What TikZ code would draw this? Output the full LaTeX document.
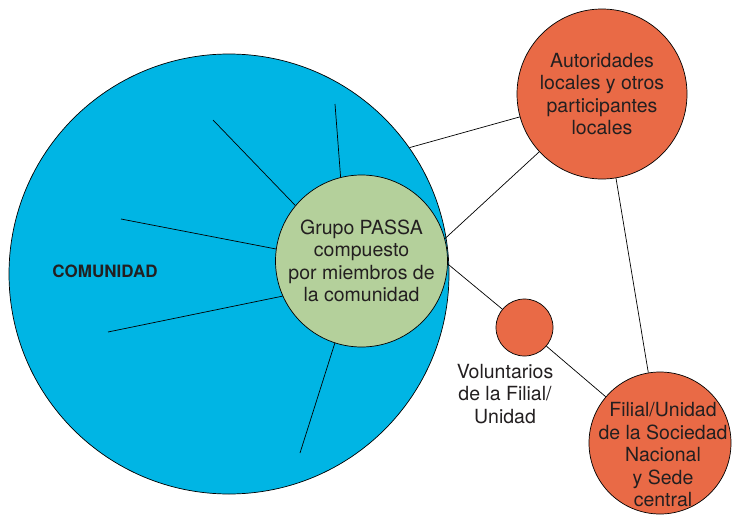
\documentclass[tikz,border=0pt]{standalone}
\usepackage{fontspec}
\setmainfont{TeX Gyre Heros}
\definecolor{comblue}{RGB}{0,181,228}
\definecolor{passagreen}{RGB}{180,208,155}
\definecolor{rcorange}{RGB}{233,106,70}
\definecolor{txtgray}{RGB}{35,31,32}
\tikzset{
  blob/.style={circle, draw=black, line width=0.7pt, inner sep=0pt, align=center, text=txtgray,
    font=\fontsize{19.5}{22.5}\selectfont},
  link/.style={line width=0.7pt},
}
\begin{document}
\begin{tikzpicture}[x=1pt, y=-1pt]
  \useasboundingbox (0,0) rectangle (733,514);
  % community and PASSA group
  \node[blob, fill=comblue, minimum size=440] (com) at (229,274) {};
  \node[font=\fontsize{17}{20}\selectfont\bfseries, text=txtgray] (comtxt) at (105,271) {COMUNIDAD};
  \node[blob, fill=passagreen, minimum size=172] (grupo) at (361.5,261) {Grupo PASSA\\compuesto\\por miembros de\\la comunidad};
  \foreach \n/\a/\x/\y in {1/140/213/120, 2/104/335/104, 3/172/121/219, 4/204/108/332, 5/252/300/453}{
    \coordinate (s\n) at (\x,\y);
    \draw[link] (grupo.\a) -- (s\n);
  }
  % partners
  \node[blob, fill=rcorange, minimum size=170] (auto) at (602,94) {Autoridades\\locales y otros\\participantes\\locales};
  \node[blob, fill=rcorange, minimum size=57] (vol) at (524.5,327.5) {};
  \node[align=center, text=txtgray, font=\fontsize{19.5}{22.5}\selectfont] (voltxt) at (505,394) {Voluntarios\\de la Filial/\\Unidad};
  \node[blob, fill=rcorange, minimum size=142] (fil) at (660,443) {};
  \node[align=center, text=txtgray, font=\fontsize{19.5}{22.5}\selectfont] (filtxt) at (663,455) {Filial/Unidad\\de la Sociedad\\Nacional\\y Sede\\central};
  % links
  \draw[link] (com.35) -- (auto);
  \draw[link] (grupo.15) -- (auto);
  \draw[link] (grupo.-2) -- (vol);
  \draw[link] (vol) -- (fil);
  \draw[link] (auto) -- (fil);
\end{tikzpicture}
\end{document}
